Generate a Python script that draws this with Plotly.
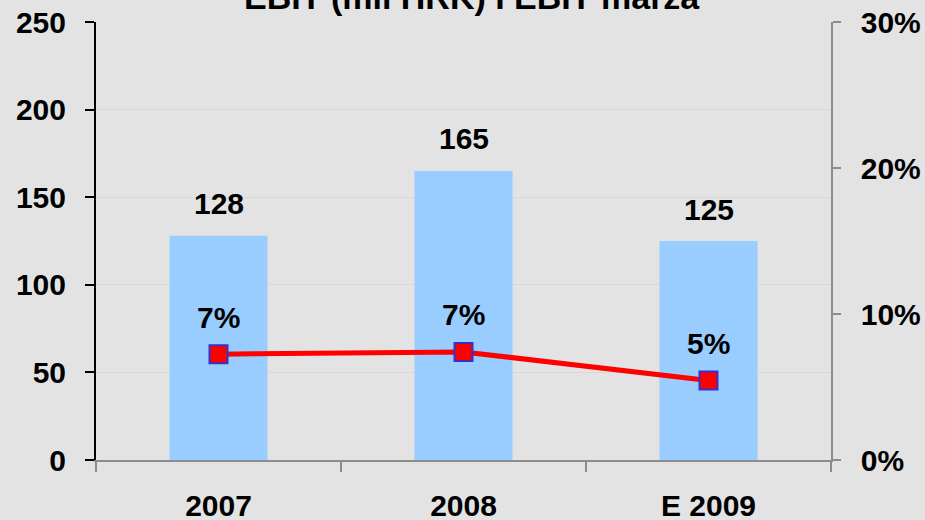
import plotly.graph_objects as go

# podaci
godine = ["2007", "2008", "E 2009"]
ebit = [128, 165, 125]
marza = [0.0725, 0.074, 0.0545]

naslov = "EBIT (mil HRK) I EBIT marža"
font_b = "Liberation Sans, Arial, sans-serif"
bold = dict(family=font_b, size=30, color="black", weight="bold")

bar = go.Bar(
    x=godine, y=ebit,
    marker=dict(color="#99CCFF", line=dict(width=0)),
    width=0.4,
    name="EBIT",
)

linija = go.Scatter(
    x=godine, y=marza, yaxis="y2",
    mode="lines+markers",
    line=dict(color="#FF0000", width=5),
    marker=dict(symbol="square", size=18, color="#FF0000",
                line=dict(color="#3333CC", width=2)),
    cliponaxis=False,
    name="EBIT marža",
)

fig = go.Figure(data=[bar, linija])

# oznake vrijednosti (x kao indeks kategorije)
for i, v in enumerate(ebit):
    fig.add_annotation(x=i, y=v, xref="x", yref="y", text=str(v),
                       showarrow=False, yanchor="middle", yshift=32,
                       font=bold)
for i, m in enumerate(marza):
    fig.add_annotation(x=i, y=m, xref="x", yref="y2", text=f"{m:.0%}",
                       showarrow=False, yanchor="middle", yshift=37,
                       font=bold)

# naslov je u izvorniku većim dijelom odrezan na vrhu
fig.add_annotation(
    text=naslov, xref="paper", yref="paper",
    x=0.5, y=1, yanchor="bottom", yshift=4, xshift=8, showarrow=False,
    font=dict(bold, size=34),
)

tickf = dict(family=font_b, size=30, color="black", weight="bold")

fig.update_layout(
    width=925, height=520,
    margin=dict(l=96, r=94, t=22, b=60),
    paper_bgcolor="#E3E3E3", plot_bgcolor="#E3E3E3",
    showlegend=False,
    font=dict(family=font_b, size=24, color="black"),
    xaxis=dict(
        type="category", range=[-0.5, 2.5], automargin=False,
        showline=True, linecolor="#8C8C8C", linewidth=1.5,
        ticks="outside", tickson="boundaries", ticklen=10,
        tickcolor="#8C8C8C", tickwidth=1.5,
        tickfont=tickf, tickangle=0,
        ticklabelstandoff=18,
    ),
    yaxis=dict(
        range=[0, 250], tickvals=[0, 50, 100, 150, 200, 250],
        automargin=False,
        showline=True, linecolor="black", linewidth=2,
        ticks="outside", ticklen=9, tickcolor="black", tickwidth=2,
        showgrid=True, gridcolor="#D8D8D8", gridwidth=1,
        zeroline=False,
        tickfont=tickf,
        ticklabelstandoff=13,
    ),
    yaxis2=dict(
        range=[0, 0.30], tickvals=[0, 0.1, 0.2, 0.3], tickformat=".0%",
        overlaying="y", side="right", automargin=False,
        showline=True, linecolor="#8C8C8C", linewidth=1.5,
        ticks="outside", ticklen=8, tickcolor="#8C8C8C", tickwidth=1.5,
        showgrid=False, zeroline=False,
        tickfont=tickf,
        ticklabelstandoff=14,
    ),
)

fig.write_html("out.html", config={"displayModeBar": False},
               post_script="document.body.style.margin='0';")
